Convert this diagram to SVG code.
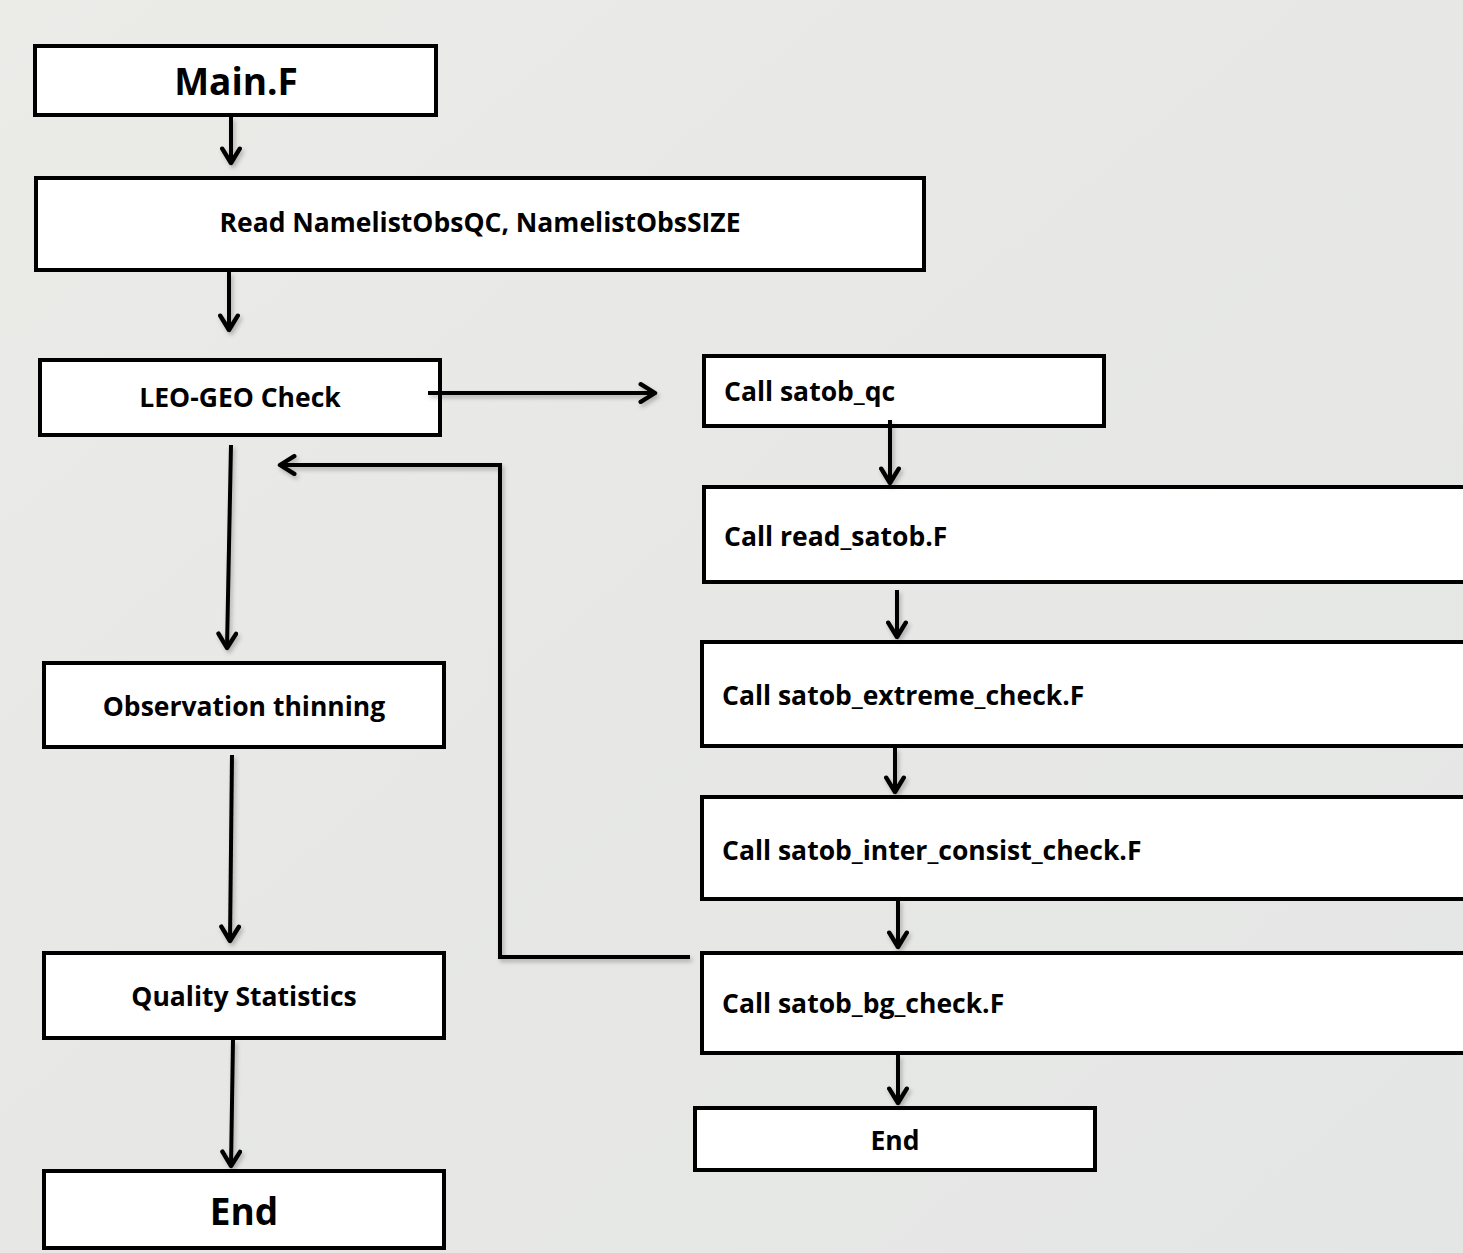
<svg xmlns="http://www.w3.org/2000/svg" width="1463" height="1253" viewBox="0 0 1463 1253">
<defs>
<linearGradient id="bg" x1="0" y1="0" x2="1" y2="1">
<stop offset="0" stop-color="#ebebe8"/>
<stop offset="0.5" stop-color="#e7e8e6"/>
<stop offset="1" stop-color="#e4e6e5"/>
</linearGradient>
<filter id="sh" x="-10%" y="-10%" width="120%" height="120%">
<feDropShadow dx="2" dy="3" stdDeviation="2" flood-color="#000" flood-opacity="0.25"/>
</filter>
<marker id="ah" viewBox="0 0 20 20" refX="17" refY="10" markerWidth="22" markerHeight="22" markerUnits="userSpaceOnUse" orient="auto">
<path d="M4,2 L17,10 L4,18" fill="none" stroke="#000" stroke-width="4" stroke-linecap="round" stroke-linejoin="round"/>
</marker>
</defs>
<style>
.box{fill:#fff;stroke:#000;stroke-width:4}
.t{font-family:"Open Sans",Lato,"Liberation Sans",sans-serif;font-weight:bold;fill:#000;font-size:26.5px}
.big{font-size:37px}
.c{text-anchor:middle}
.ln{fill:none;stroke:#000;stroke-width:4;marker-end:url(#ah)}
</style>
<rect width="1463" height="1253" fill="url(#bg)"/>
<g id="n-main"><rect class="box" x="35" y="46" width="401" height="69"/><text class="t big c" x="236" y="95">Main.F</text></g>
<g id="n-read"><rect class="box" x="36" y="178" width="888" height="92"/><text class="t c" x="480" y="232">Read NamelistObsQC, NamelistObsSIZE</text></g>
<g id="n-leo"><rect class="box" x="40" y="360" width="400" height="75"/><text class="t c" x="240" y="407">LEO-GEO Check</text></g>
<g id="n-obs"><rect class="box" x="44" y="663" width="400" height="84"/><text class="t c" x="244" y="716">Observation thinning</text></g>
<g id="n-qual"><rect class="box" x="44" y="953" width="400" height="85"/><text class="t c" x="244" y="1006">Quality Statistics</text></g>
<g id="n-end1"><rect class="box" x="44" y="1171" width="400" height="77"/><text class="t big c" x="244" y="1225">End</text></g>
<g id="n-qc"><rect class="box" x="704" y="356" width="400" height="70"/><text class="t" x="724" y="401">Call satob_qc</text></g>
<g id="n-rsat"><rect class="box" x="704" y="487" width="770" height="95"/><text class="t" x="724" y="546">Call read_satob.F</text></g>
<g id="n-ext"><rect class="box" x="702" y="642" width="772" height="104"/><text class="t" x="722" y="705">Call satob_extreme_check.F</text></g>
<g id="n-inter"><rect class="box" x="702" y="797" width="772" height="102"/><text class="t" x="722" y="860">Call satob_inter_consist_check.F</text></g>
<g id="n-bg"><rect class="box" x="702" y="953" width="772" height="100"/><text class="t" x="722" y="1013">Call satob_bg_check.F</text></g>
<g id="n-end2"><rect class="box" x="695" y="1108" width="400" height="62"/><text class="t c" x="895" y="1150">End</text></g>
<g id="connectors" filter="url(#sh)">
<line class="ln" x1="231" y1="117" x2="231" y2="163"/>
<line class="ln" x1="229" y1="272" x2="229" y2="330"/>
<line class="ln" x1="428" y1="393" x2="655" y2="393"/>
<line class="ln" x1="231" y1="445" x2="227" y2="648"/>
<line class="ln" x1="232" y1="755" x2="230" y2="941"/>
<line class="ln" x1="233" y1="1040" x2="231" y2="1166"/>
<line class="ln" x1="890" y1="420" x2="890" y2="483"/>
<line class="ln" x1="897" y1="590" x2="897" y2="637"/>
<line class="ln" x1="895" y1="748" x2="895" y2="792"/>
<line class="ln" x1="898" y1="900" x2="898" y2="947"/>
<line class="ln" x1="898" y1="1055" x2="898" y2="1103"/>
<polyline class="ln" points="690,957 500,957 500,465 280,465"/>
</g>
</svg>
